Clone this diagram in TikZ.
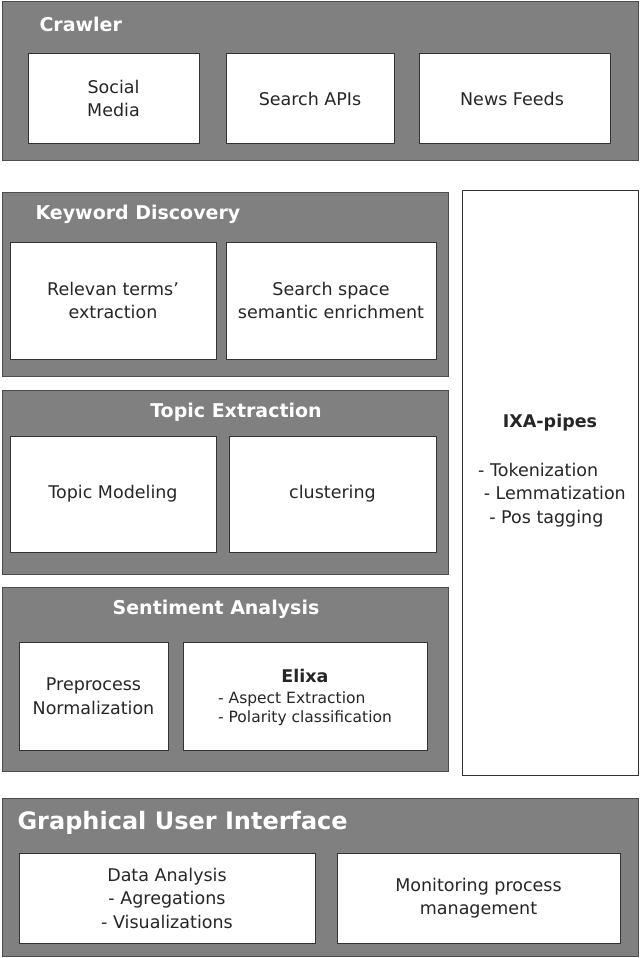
\documentclass[tikz,border=0pt]{standalone}
\usepackage{fontspec}
\setmainfont{DejaVu Sans}
\begin{document}
\begin{tikzpicture}[x=1pt,y=-1pt,
  outer/.style={draw=black!70,fill=black!50,line width=1pt},
  inner/.style={draw=black!80,fill=white,line width=1pt},
  ttl/.style={text=white,font=\bfseries\fontsize{19}{22}\selectfont},
  txt/.style={align=center,font=\fontsize{17.5}{23.5}\selectfont,text=black!85}]
\useasboundingbox (0,0) rectangle (640,958);
% Crawler
\draw[outer] (2,2) rectangle (638,160);
\node[ttl,anchor=west] (t1) at (36,24) {Crawler};
\draw[inner] (28,54) rectangle (199,143); \node[txt] (a1) at (113.5,98.5) {Social\\Media};
\draw[inner] (226,54) rectangle (394,143); \node[txt] (a2) at (310,98.5) {Search APIs};
\draw[inner] (419,54) rectangle (610,143); \node[txt] (a3) at (512,98.5) {News Feeds};
% Keyword
\draw[outer] (2,192) rectangle (448,376);
\node[ttl,anchor=west] (t2) at (32,214) {Keyword Discovery};
\draw[inner] (10,242) rectangle (216,359); \node[txt] (b1) at (113,300.5) {Relevan terms'\\extraction};
\draw[inner] (226,242) rectangle (436,359); \node[txt] (b2) at (331,300.5) {Search space\\semantic enrichment};
% IXA
\draw[inner] (462,190) rectangle (638,775);
\node[txt,font=\bfseries\fontsize{17.5}{20}\selectfont] (ix) at (550,423) {IXA-pipes};
\node[txt,align=left] (ixl) at (552,495) {- Tokenization\\\ - Lemmatization\\\ \ - Pos tagging};
% Topic
\draw[outer] (2,390) rectangle (448,574);
\node[ttl] (t3) at (236,412) {Topic Extraction};
\draw[inner] (10,436) rectangle (216,552); \node[txt] (c1) at (113,494) {Topic Modeling};
\draw[inner] (229,436) rectangle (436,552); \node[txt] (c2) at (332.5,494) {clustering};
% Sentiment
\draw[outer] (2,587) rectangle (448,771);
\node[ttl] (t4) at (216,609) {Sentiment Analysis};
\draw[inner] (19,642) rectangle (168,750); \node[txt] (d1) at (93.5,696) {Preprocess\\Normalization};
\draw[inner] (183,642) rectangle (427,750);
\node[txt,font=\bfseries\fontsize{17.5}{20}\selectfont] (d2) at (305,676) {Elixa};
\node[txt,font=\fontsize{15.5}{19}\selectfont,align=left] (d3) at (305,709) {- Aspect Extraction\\- Polarity classification};
% GUI
\draw[outer] (2,798) rectangle (638,956);
\node[ttl,anchor=west,font=\bfseries\fontsize{24}{28}\selectfont] (t5) at (14,823) {Graphical User Interface};
\draw[inner] (19,853) rectangle (315,943); \node[txt] (e1) at (167,898) {Data Analysis\\- Agregations\\- Visualizations};
\draw[inner] (337,853) rectangle (620,943); \node[txt] (e2) at (478.5,898) {Monitoring process\\management};
\end{tikzpicture}
\end{document}
